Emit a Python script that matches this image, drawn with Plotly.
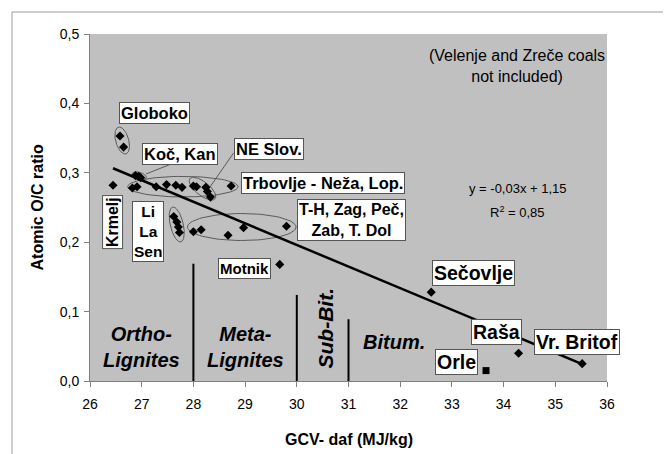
import numpy as np
import plotly.graph_objects as go

# ---------------- data ----------------
coal_x = [26.58, 26.65, 26.445,
          26.88, 26.94, 26.98,
          26.82, 26.91, 27.28, 27.48, 27.66, 27.78, 28.73,
          28.00, 28.06, 28.24, 28.27, 28.33,
          27.62, 27.68, 27.71, 27.73,
          28.00, 28.15, 28.67, 28.97, 29.80,
          29.67, 32.60, 34.29, 35.52]
coal_y = [0.353, 0.337, 0.282,
          0.296, 0.295, 0.293,
          0.278, 0.280, 0.280, 0.283, 0.282, 0.279, 0.281,
          0.281, 0.280, 0.279, 0.273, 0.265,
          0.237, 0.229, 0.222, 0.214,
          0.215, 0.218, 0.210, 0.221, 0.223,
          0.168, 0.128, 0.040, 0.025]
orle_x = [33.66]
orle_y = [0.015]

trend_slope = -0.0311
trend_intercept = 1.129

rank_bounds = [28, 30, 31]
rank_tops = [0.169, 0.124, 0.089]

x_ticks = list(range(26, 37))
y_ticks = [0.0, 0.1, 0.2, 0.3, 0.4, 0.5]

FONT = "Arial, Liberation Sans, sans-serif"
XPX = 56.2           # reference px per x unit (for ellipse radii)
YPX = 694.0          # px per y unit

fig = go.Figure()

# ---------------- ellipses around groups ----------------
def ellipse(cx, cy, a, b, theta_deg, n=80):
    t = np.linspace(0, 2 * np.pi, n)
    th = np.deg2rad(theta_deg)
    dx = a * np.cos(t) * np.cos(th) - b * np.sin(t) * np.sin(th)
    dy = a * np.cos(t) * np.sin(th) + b * np.sin(t) * np.cos(th)
    return cx + dx / XPX, cy - dy / YPX

ellipses = [
    (26.623, 0.3465, 14, 7, 72),    # Globoko
    (26.952, 0.2957, 8, 3.5, 15),   # Koc, Kan
    (27.797, 0.2800, 60, 10.3, 0),  # Trbovlje
    (28.176, 0.2771, 17, 7, 35),    # NE Slov
    (27.678, 0.2255, 18, 7, 75),    # Li La Sen
    (28.936, 0.2219, 59, 13.5, 0),  # T-H ...
]
for (cx, cy, a, b, th) in ellipses:
    ex, ey = ellipse(cx, cy, a, b, th)
    fig.add_trace(go.Scatter(x=ex, y=ey, mode="lines",
                             line=dict(color="#5a5a5a", width=1),
                             hoverinfo="skip", showlegend=False))

# leader lines
for (x0, y0, x1, y1) in [(27.619, 0.3141, 27.085, 0.2983),
                         (28.776, 0.3285, 28.295, 0.2767)]:
    fig.add_trace(go.Scatter(x=[x0, x1], y=[y0, y1], mode="lines",
                             line=dict(color="#5a5a5a", width=1),
                             hoverinfo="skip", showlegend=False))

# rank boundary lines
for bx, top in zip(rank_bounds, rank_tops):
    fig.add_trace(go.Scatter(x=[bx, bx], y=[0, top], mode="lines",
                             line=dict(color="black", width=2),
                             hoverinfo="skip", showlegend=False))

# trend line
all_x = coal_x + orle_x
tx = np.array([min(all_x), max(all_x)])
fig.add_trace(go.Scatter(x=tx, y=trend_slope * tx + trend_intercept, mode="lines",
                         line=dict(color="black", width=2.5),
                         hoverinfo="skip", showlegend=False))

# points
fig.add_trace(go.Scatter(x=coal_x, y=coal_y, mode="markers",
                         marker=dict(symbol="diamond", size=7, color="black"),
                         showlegend=False))
fig.add_trace(go.Scatter(x=orle_x, y=orle_y, mode="markers",
                         marker=dict(symbol="square", size=7, color="black"),
                         showlegend=False))

# ---------------- annotations ----------------
def box(text, x, y, size, angle=0):
    return dict(text="<b>%s</b>" % text, x=x, y=y, xref="x", yref="y",
                xanchor="center", yanchor="middle",
                showarrow=False, textangle=angle, align="center",
                font=dict(family=FONT, size=size, color="black"),
                bgcolor="white", bordercolor="#555555", borderwidth=1, borderpad=1)

def plain(text, x, y, size, angle=0, xref="x", yref="y"):
    return dict(text=text, x=x, y=y, xref=xref, yref=yref, showarrow=False,
                xanchor="center", yanchor="middle",
                textangle=angle, align="center",
                font=dict(family=FONT, size=size, color="black"))

annots = [
    box("Globoko", 27.246, 0.3855, 16.5),
    box("Koč, Kan", 27.744, 0.3278, 16.5),
    box("NE Slov.", 29.47, 0.3336, 16.5),
    box("Trbovlje - Neža, Lop.", 30.50, 0.2853, 16.5),
    box("T-H, Zag, Peč,<br>Zab, T. Dol", 31.05, 0.2327, 16),
    box("Krmelj", 26.427, 0.2291, 16, angle=-90),
    box("Li<br>La<br>Sen", 27.12, 0.216, 15.5),
    box("Motnik", 28.98, 0.1628, 15),
    box("Sečovlje", 33.42, 0.1563, 19.5),
    box("Raša", 33.87, 0.0713, 19.5),
    box("Orle", 33.08, 0.0281, 19.5),
    box("Vr. Britof", 35.42, 0.0562, 19.5),
    plain("<b><i>Ortho-<br>Lignites</i></b>", 27.0, 0.049, 20),
    plain("<b><i>Meta-<br>Lignites</i></b>", 29.0, 0.049, 20),
    plain("<b><i>Sub-Bit.</i></b>", 30.55, 0.076, 21, angle=-90),
    plain("<b><i>Bitum.</i></b>", 31.88, 0.056, 20),
    plain("y = -0,03x + 1,15", 34.27, 0.277, 13),
    plain("R<sup>2</sup> = 0,85", 34.26, 0.2435, 13),
    plain("(Velenje and Zreče coals<br>not included)", 34.25, 0.4546, 16),
    plain("<b>Atomic O/C ratio</b>", -0.1006, 0.5, 16, angle=-90, xref="paper", yref="paper"),
    plain("<b>GCV- daf (MJ/kg)</b>", 0.5, -0.170, 16, xref="paper", yref="paper"),
]

fig.update_layout(
    width=671, height=454,
    margin=dict(l=82, r=72, t=26, b=81),
    paper_bgcolor="white", plot_bgcolor="#c0c0c0",
    separators=", ",
    font=dict(family=FONT, color="black"),
    annotations=annots,
    shapes=[dict(type="rect", xref="paper", yref="paper",
                 x0=-0.1509, x1=1.1315, y0=-0.219, y1=1.0634,
                 line=dict(color="#9a9a9a", width=1), fillcolor="rgba(0,0,0,0)",
                 layer="below")],
)
fig.update_xaxes(range=[26, 36], tickvals=x_ticks, ticktext=[str(v) for v in x_ticks],
                 ticks="outside", ticklen=5, tickcolor="#808080",
                 ticklabelstandoff=5,
                 showline=True, linecolor="#808080", linewidth=1,
                 showgrid=False, zeroline=False,
                 tickfont=dict(family=FONT, size=14, color="black"))
fig.update_yaxes(range=[0, 0.5], tickvals=y_ticks, tickformat=".1f",
                 ticks="outside", ticklen=5, tickcolor="#808080",
                 ticklabelstandoff=2,
                 showline=True, linecolor="#808080", linewidth=1,
                 showgrid=False, zeroline=False,
                 tickfont=dict(family=FONT, size=14, color="black"))

fig.write_html("out.html")
